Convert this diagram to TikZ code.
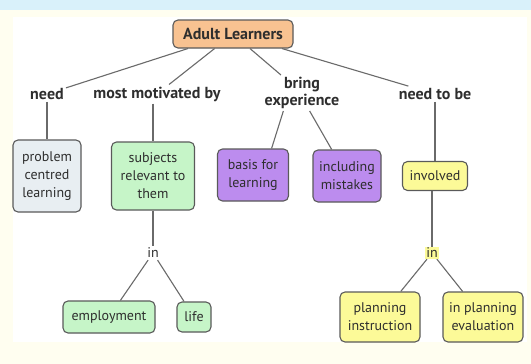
\documentclass[tikz,border=0pt]{standalone}
\usepackage{fontspec}
\setmainfont{PT Sans}
\usepackage{tikz}
\definecolor{rootfill}{HTML}{F8C291}
\definecolor{greyfill}{HTML}{E8EEF2}
\definecolor{greenfill}{HTML}{C6F5C8}
\definecolor{purplefill}{HTML}{BC8CEE}
\definecolor{yellowfill}{HTML}{FCFA98}
\definecolor{boxline}{HTML}{5A5A5A}
\definecolor{linegrey}{HTML}{6A6A6A}
\definecolor{textgrey}{HTML}{2E2E2E}
\definecolor{creamback}{HTML}{FFFEF0}
\definecolor{bluestrip}{HTML}{D9F1FA}
\tikzstyle{concept} = [draw=boxline, line width=1.1pt, rounded corners=5pt, align=center, inner sep=3pt, text=textgrey]
\tikzstyle{root} = [concept, fill=rootfill, font=\fontsize{16}{17}\selectfont\bfseries, minimum height=28pt, minimum width=120pt]
\tikzstyle{linkword} = [align=center, inner sep=2pt, text=textgrey, font=\fontsize{16}{17}\selectfont\bfseries]
\tikzstyle{link} = [draw=linegrey, line width=1.1pt]

\begin{document}
\begin{tikzpicture}[x=1pt, y=1pt, font=\fontsize{14}{18}\selectfont]
    % background
    \fill[creamback] (0,0) rectangle (531,-364);
    \fill[bluestrip] (0,0) rectangle (531,-10);
    \fill[white] (13,-17) rectangle (527,-342);
    \useasboundingbox (0,0) rectangle (531,-364);
    % top
    \node [root] (root) at (233,-34) {Adult Learners};
    \node [linkword, below of=root, node distance=60pt, xshift=-186pt] (need) {need};
    \node [linkword, below of=root, node distance=60pt, xshift=-76pt] (motiv) {most motivated by};
    \node [linkword, below of=root, node distance=59pt, xshift=69pt] (bring) {bring\\experience};
    \node [linkword, below of=root, node distance=60pt, xshift=202pt] (needbe) {need to be};
    % concepts
    \node [concept, fill=greyfill, minimum width=68pt, minimum height=72pt, below of=need, node distance=82pt] (problem) {problem\\centred\\learning};
    \node [concept, fill=greenfill, minimum width=83pt, minimum height=68pt, below of=motiv, node distance=82pt, xshift=-4pt] (subjects) {subjects\\relevant to\\them};
    \node [concept, fill=purplefill, minimum width=71pt, minimum height=52pt, below of=bring, node distance=82pt, xshift=-49pt] (basis) {basis for\\learning};
    \node [concept, fill=purplefill, minimum width=68pt, minimum height=52pt, below of=bring, node distance=83pt, xshift=45pt] (mistakes) {including\\mistakes};
    \node [concept, fill=yellowfill, minimum width=65pt, minimum height=29pt, below of=needbe, node distance=82pt] (involved) {involved};
    % second level
    \node [linkword, font=\fontsize{14}{17}\selectfont, below of=subjects, node distance=77pt] (inleft) {in};
    \node [linkword, font=\fontsize{14}{17}\selectfont, fill=yellowfill, inner sep=1pt, below of=involved, node distance=77pt, xshift=-3pt] (inright) {in};
    \node [concept, fill=greenfill, minimum width=92pt, minimum height=32pt, below of=inleft, node distance=64pt, xshift=-44pt] (employ) {employment};
    \node [concept, fill=greenfill, minimum width=34pt, minimum height=30pt, below of=inleft, node distance=64pt, xshift=41pt] (life) {life};
    \node [concept, fill=yellowfill, minimum width=80pt, minimum height=50pt, below of=inright, node distance=64pt, xshift=-52pt] (planinst) {planning\\instruction};
    \node [concept, fill=yellowfill, minimum width=80pt, minimum height=50pt, below of=inright, node distance=64pt, xshift=51pt] (planeval) {in planning\\evaluation};
    % connectors
    \draw [link] (root) -- (need);
    \draw [link] (root) -- (motiv);
    \draw [link] (root) -- (bring);
    \draw [link] (root) -- (needbe);
    \draw [link] (need) -- (problem);
    \draw [link] (motiv.south -| subjects) -- (subjects);
    \draw [link] (bring.-136) -- (basis.55);
    \draw [link] (bring.-67) -- (mistakes.120);
    \draw [link] (needbe.south -| involved) -- (involved);
    \draw [link] (subjects.south -| inleft) -- (inleft);
    \draw [link] (inleft) -- (employ);
    \draw [link] (inleft) -- (life);
    \draw [link] (involved.south -| inright) -- (inright);
    \draw [link] (inright) -- (planinst);
    \draw [link] (inright) -- (planeval);
\end{tikzpicture}
\end{document}
